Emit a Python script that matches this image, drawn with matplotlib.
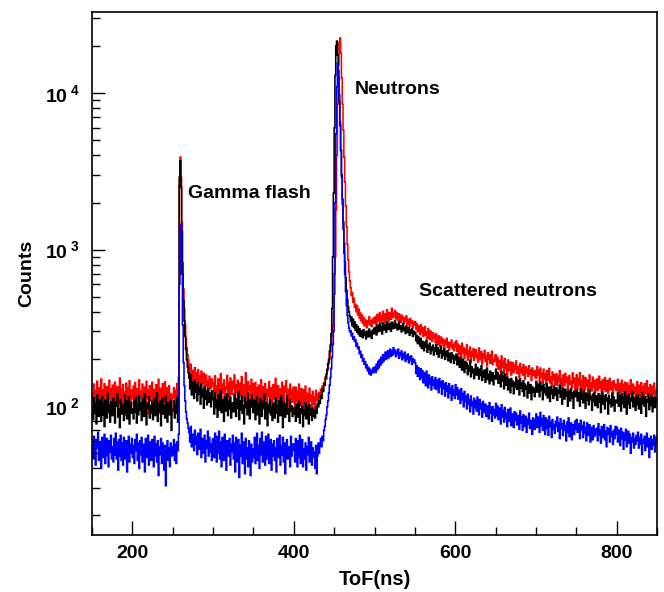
import numpy as np
import matplotlib
matplotlib.use("Agg")
import matplotlib.pyplot as plt
from matplotlib.ticker import FixedLocator, LogLocator, NullFormatter

# ToF histograms, 1 ns bins starting at 150 ns
bin_start = 150
bin_width = 1

# red detector counts
red_counts = [
    121,97,138,109,126,93,144,112,131,101,118,149,95,127,106,139,115,88,133,120,102,146,111,128,98,
    136,114,91,142,107,125,133,99,118,151,104,129,92,137,116,123,87,140,110,131,96,145,119,103,127,
    112,134,99,141,118,90,129,107,147,115,124,94,138,103,121,132,97,144,113,126,89,135,108,119,142,
    101,128,116,93,137,122,105,148,111,130,96,125,139,106,117,143,92,131,109,124,135,98,120,88,113,
    118,131,97,126,109,139,104,152,
    2600,3900,2900,1500,820,560,420,330,270,235,212,196,
    178,152,185,141,169,158,137,176,149,163,132,171,145,156,128,167,139,150,162,126,147,158,133,144,121,155,138,129,149,135,
    141,113,156,124,135,104,149,127,118,161,109,138,122,147,102,133,128,157,115,140,107,151,125,119,144,
    130,158,111,136,123,146,99,132,140,117,154,106,129,137,114,163,121,108,143,126,134,101,148,119,139,
    127,99,141,113,130,92,136,118,105,147,121,96,133,110,139,124,88,128,115,143,102,131,119,94,137,
    112,125,150,98,121,135,107,129,116,91,142,119,104,134,123,145,100,117,128,95,138,111,126,106,132,
    118,96,132,107,125,89,138,114,101,129,110,93,127,105,134,99,121,112,88,130,108,117,97,124,103,
    115,92,126,109,119,104,122,113,128,118,134,126,141,137,153,149,168,172,189,201,224,248,282,331,398,
    520,900,1800,4000,8500,15000,21000,22500,18000,12500,8500,5800,3900,2700,1900,1400,1080,860,720,630,
    571,508,532,461,489,428,446,401,437,382,416,365,394,351,382,338,369,326,358,344,317,352,336,371,329,348,322,359,341,366,
    339,372,326,385,348,361,394,337,376,352,403,365,341,389,358,412,372,347,396,381,359,421,368,392,374,
    408,361,395,374,352,389,367,343,381,356,372,338,364,349,377,331,358,345,322,362,339,351,318,344,330,
    347,311,336,298,325,309,286,331,294,317,279,305,322,283,298,271,313,288,266,302,279,259,294,272,285,
    256,289,268,247,281,262,239,276,255,268,244,231,263,249,271,237,256,228,252,241,264,233,246,226,255,
    238,261,224,249,213,243,229,205,252,218,236,201,231,214,246,197,226,209,238,192,221,207,233,196,218,
    229,204,217,191,235,209,198,223,186,214,202,227,193,209,181,219,199,212,188,205,224,184,201,193,211,
    212,181,205,172,196,188,164,209,177,193,161,201,174,185,156,197,169,180,191,158,176,189,164,183,171,
    194,162,179,171,152,187,166,175,158,184,169,149,178,163,172,155,181,160,170,146,175,163,157,168,151,
    152,179,158,169,143,175,154,163,140,172,149,160,137,168,146,156,174,141,153,133,165,147,159,138,152,
    161,136,155,144,168,139,150,129,158,146,135,162,142,153,127,149,157,138,145,131,163,140,151,125,148,
    159,128,150,137,163,130,145,122,156,139,127,152,134,147,120,144,158,129,140,125,153,132,146,123,138,
    149,126,141,155,130,143,119,147,135,128,152,124,139,146,121,137,150,127,133,142,118,145,131,138,126,
    127,148,120,139,132,113,146,125,137,117,142,129,110,140,123,134,119,147,126,112,138,121,132,115,130,
    143,118,128,136,111,141,124,133,106,139,127,120,145,116,131,122,137,109,128,134,119,140,113,126,124,
]

# black detector counts
black_counts = [
    99,82,113,90,105,77,118,93,86,110,95,80,115,88,103,74,109,97,84,120,91,102,79,107,94,
    87,112,93,78,106,100,119,85,96,73,110,89,102,94,81,117,91,108,83,99,114,77,95,105,90,
    96,83,109,92,114,78,101,88,117,94,105,81,98,111,86,119,93,76,104,97,115,84,100,90,107,
    82,99,113,87,95,121,80,103,91,108,75,97,112,89,101,84,116,93,79,106,98,88,110,70,95,
    93,108,84,101,90,112,79,118,
    2900,3700,2500,1300,700,470,350,280,230,198,178,163,
    151,129,158,118,142,134,112,146,123,137,108,141,119,131,103,138,115,126,97,133,111,124,102,129,106,121,117,99,125,110,
    113,89,122,98,109,85,118,102,94,126,91,110,99,80,115,104,93,120,87,107,96,114,84,105,100,
    92,119,103,86,111,97,124,82,108,95,116,90,101,77,113,98,106,88,121,94,83,109,99,117,91,
    93,109,82,100,114,88,103,77,111,95,86,107,98,119,83,97,105,75,102,92,110,88,99,81,104,
    96,84,112,90,101,79,108,94,87,115,91,73,106,98,85,103,117,89,96,80,110,93,100,86,97,
    89,98,80,103,92,85,107,78,96,90,100,74,94,87,105,83,99,91,77,102,88,95,81,97,86,
    93,84,98,90,103,99,108,104,117,112,128,124,139,136,152,160,171,186,198,224,245,290,420,900,2300,
    6000,13000,20000,21500,17500,12500,8800,6200,4300,3000,2100,1500,1100,830,660,550,480,430,400,375,
    348,371,327,359,318,344,305,331,296,322,287,312,279,303,291,274,308,283,296,269,301,286,277,310,282,298,271,305,289,314,
    292,319,285,328,299,311,336,302,323,289,341,315,306,332,297,348,318,309,337,322,301,344,327,313,338,
    352,316,334,307,329,345,311,326,298,321,337,304,318,291,325,309,296,317,284,306,293,312,279,301,288,
    296,262,283,251,277,266,243,271,234,259,247,226,256,239,264,221,244,232,252,216,238,227,245,212,235,
    224,248,215,236,206,229,218,241,203,225,211,232,199,221,208,226,195,217,204,190,219,201,212,188,207,
    198,215,184,207,192,177,204,187,170,199,182,164,193,175,188,159,181,167,196,154,178,163,172,150,169,
    185,158,176,162,149,172,157,181,146,166,153,170,142,161,175,148,159,139,167,152,145,163,137,156,150,
    172,149,164,140,158,152,133,166,145,155,129,160,142,136,153,127,148,139,122,150,135,144,120,141,132,
    153,128,146,137,118,149,131,140,124,145,116,138,129,134,113,142,126,121,137,110,133,123,130,115,128,
    144,123,138,129,115,142,126,134,110,137,122,130,118,139,113,132,125,107,133,120,128,112,135,117,124,
    131,109,127,121,136,114,125,103,130,119,111,128,116,123,100,126,118,108,129,113,121,97,124,115,119,
    127,108,122,116,100,129,111,120,105,125,114,97,121,109,118,102,126,110,115,94,119,107,122,101,116,
    113,98,120,106,117,91,111,124,103,115,96,118,108,112,89,117,104,110,99,121,102,114,93,109,106,
    105,122,100,117,109,93,120,104,114,98,123,107,89,115,103,119,97,112,108,124,99,113,105,94,116,
    102,118,96,111,107,90,121,104,113,100,115,86,110,106,119,95,112,101,117,92,109,114,98,111,104,
]

# blue detector counts
blue_counts = [
    58,46,64,50,42,61,54,68,45,59,49,40,63,52,47,66,43,57,62,48,41,60,51,65,46,
    55,44,62,49,67,46,59,39,61,48,65,45,58,42,63,51,46,60,38,55,64,44,57,50,62,
    47,56,43,61,52,66,45,58,40,60,49,63,44,57,51,38,62,47,55,65,42,59,50,45,61,
    53,41,64,48,57,44,60,36,55,49,62,43,58,46,39,56,31,52,60,45,54,41,58,48,55,
    49,61,45,57,43,59,52,66,
    600,1450,1350,700,330,190,135,108,92,83,78,72,
    68,59,74,55,66,61,52,70,57,64,49,67,58,53,71,47,62,56,50,65,44,60,54,69,48,63,51,57,45,61,
    62,47,67,53,44,64,50,69,46,59,41,63,49,45,66,52,39,60,55,48,62,42,57,51,65,
    46,58,38,63,52,44,61,35,56,48,67,43,59,50,37,62,46,54,41,60,49,36,57,44,53,
    47,63,43,58,67,45,56,40,62,49,68,44,59,51,42,64,46,57,66,43,55,61,39,57,48,
    60,45,54,38,62,51,47,65,42,56,49,63,44,58,37,53,61,46,55,50,41,64,48,57,52,
    57,44,62,48,41,60,47,65,43,56,61,41,53,46,58,39,55,49,63,44,52,59,42,54,47,
    51,40,56,37,48,58,50,57,62,55,64,60,70,74,82,88,99,108,121,136,152,174,205,248,300,
    700,2000,5500,11000,15500,14000,9800,6500,4300,2900,1950,1350,950,700,540,440,380,340,315,298,
    303,281,292,268,277,259,266,241,252,233,238,216,224,205,213,194,201,185,192,176,183,168,177,161,172,158,169,163,175,166,
    178,164,185,171,193,176,198,183,205,189,213,194,207,221,199,215,226,203,219,231,208,224,212,236,217,
    228,207,223,214,231,202,219,210,225,198,216,204,221,193,211,200,215,189,206,196,209,185,201,191,197,
    189,162,181,155,176,166,148,173,152,168,141,163,156,135,167,144,131,158,139,151,127,154,136,146,130,
    152,128,147,137,122,150,133,142,119,145,129,138,116,141,125,134,113,139,121,130,109,135,118,126,112,
    137,118,131,111,126,122,104,129,110,120,99,124,107,115,96,119,103,110,92,116,100,107,89,112,98,
    108,93,114,101,88,110,96,104,85,107,97,91,103,86,100,94,83,105,90,98,80,99,88,95,84,
    104,87,100,82,97,91,77,102,85,94,79,98,83,90,74,95,86,80,97,75,89,84,73,92,81,
    90,76,87,82,71,93,78,85,70,88,80,74,86,68,83,77,90,72,81,75,66,84,79,71,82,
    89,73,85,80,68,91,75,83,70,87,77,66,84,72,81,65,86,74,79,63,82,71,76,67,80,
    74,85,69,78,62,83,72,77,65,81,70,75,60,79,68,84,64,73,78,61,76,70,66,80,71,
    82,68,77,72,62,81,70,75,63,79,67,73,60,78,69,65,76,59,73,68,61,75,64,71,66,
    72,60,77,65,70,58,74,67,63,76,61,69,55,73,66,71,59,75,64,68,57,70,62,74,66,
    73,59,70,65,56,72,62,68,53,67,61,71,55,64,69,58,66,50,63,59,67,54,62,57,65,
    60,68,54,63,57,66,49,61,58,64,52,60,67,55,62,47,59,64,53,61,56,65,51,58,63,
]

x_major = [200, 400, 600, 800]
x_labels = ["200", "400", "600", "800"]
y_major = [1e2, 1e3, 1e4]
y_labels = [r"$10^{\;2}$", r"$10^{\;3}$", r"$10^{\;4}$"]

annotations = [
    ("Gamma flash", 269, 2280),
    ("Neutrons", 476, 10600),
    ("Scattered neutrons", 555, 540),
]

plt.rcParams["font.family"] = ["Liberation Sans", "DejaVu Sans"]
plt.rcParams["font.weight"] = "bold"
plt.rcParams["mathtext.fontset"] = "custom"
plt.rcParams["mathtext.rm"] = "Liberation Sans:bold"
plt.rcParams["mathtext.it"] = "Liberation Sans:bold"
plt.rcParams["mathtext.bf"] = "Liberation Sans:bold"

W, H = 664, 592
fig = plt.figure(figsize=(W / 100, H / 100), dpi=100)
left, right, top, bottom = 92, 657, 12, 535
ax = fig.add_axes([left / W, 1 - bottom / H, (right - left) / W, (bottom - top) / H])

for counts, col in ((red_counts, "#ff0000"), (black_counts, "#000000"), (blue_counts, "#0000ff")):
    edges = bin_start + bin_width * np.arange(len(counts) + 1)
    ax.stairs(counts, edges, color=col, lw=1.15, baseline=None)

ax.set_yscale("log")
ax.set_xlim(150, 850)
ax.set_ylim(15, 33000)

ax.xaxis.set_major_locator(FixedLocator(x_major))
ax.set_xticklabels(x_labels)
ax.xaxis.set_minor_locator(FixedLocator(np.arange(150, 851, 50)))
ax.yaxis.set_major_locator(FixedLocator(y_major))
ax.set_yticklabels(y_labels)
ax.yaxis.set_minor_locator(LogLocator(base=10, subs=np.arange(2, 10)))
ax.yaxis.set_minor_formatter(NullFormatter())

ax.tick_params(axis="x", which="major", direction="in", length=10, width=1.0,
               labelsize=14, pad=7, top=False)
ax.tick_params(axis="x", which="minor", direction="in", length=6, width=1.0, top=False)
ax.tick_params(axis="y", which="major", direction="in", length=9, width=1.0,
               labelsize=14, pad=9, right=False)
ax.tick_params(axis="y", which="minor", direction="in", length=6, width=1.0, right=False)

for s in ax.spines.values():
    s.set_linewidth(1.2)

ax.set_xlabel("ToF(ns)", fontsize=14.5, fontweight="bold", labelpad=6)
ax.set_ylabel("Counts", fontsize=14, fontweight="bold", labelpad=7)

for txt, xv, yv in annotations:
    ax.text(xv, yv, txt, fontsize=14, fontweight="bold", ha="left", va="center")

fig.savefig("out.png", dpi=100)
